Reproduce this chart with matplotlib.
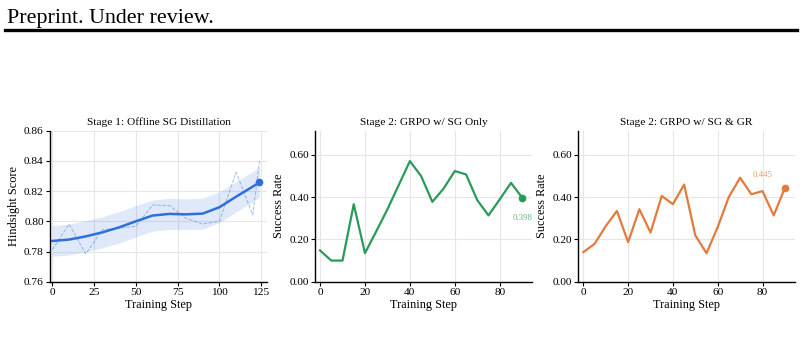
import numpy as np
import matplotlib
matplotlib.use("Agg")
import matplotlib.pyplot as plt
from matplotlib.ticker import FormatStrFormatter

plt.rcParams["font.family"] = ["Liberation Serif", "DejaVu Serif"]

# --- Stage 1: offline SG distillation (hindsight score) ---
s1_steps = [0, 10, 20, 30, 40, 50, 60, 70, 80, 90, 100, 110, 120, 124]
s1_raw = [0.7812, 0.7982, 0.7784, 0.7945, 0.7954, 0.7967, 0.8108, 0.8104,
          0.8020, 0.7982, 0.8000, 0.8325, 0.8042, 0.8400]
s1_smooth = [0.7870, 0.7879, 0.7900, 0.7927, 0.7960, 0.8000, 0.8038, 0.8049,
             0.8046, 0.8051, 0.8093, 0.8163, 0.8230, 0.8258]
s1_band = [0.0102, 0.0102, 0.0103, 0.0103, 0.0104, 0.0104, 0.0103, 0.0103,
           0.0102, 0.0102, 0.0102, 0.0101, 0.0100, 0.0100]

# --- Stage 2: GRPO runs (success rate) ---
s2_steps = [0, 5, 10, 15, 20, 25, 30, 35, 40, 45, 50, 55, 60, 65, 70, 75, 80, 85, 90]
sg_only = [0.148, 0.100, 0.100, 0.367, 0.135, 0.238, 0.343, 0.457, 0.571, 0.500,
           0.378, 0.441, 0.524, 0.508, 0.386, 0.314, 0.390, 0.468, 0.398]
sg_gr = [0.140, 0.179, 0.263, 0.335, 0.187, 0.343, 0.233, 0.406, 0.367, 0.460,
         0.219, 0.135, 0.259, 0.402, 0.492, 0.414, 0.429, 0.314, 0.445]

BLUE = "#2f6fdb"
GREEN = "#2a9a5a"
ORANGE = "#e27b3b"

W, H = 804, 337
fig = plt.figure(figsize=(W / 100, H / 100), dpi=100)

# page header
fig.text(7 / W, 1 - 22.7 / H, "Preprint. Under review.", fontsize=15.8,
         ha="left", va="baseline")
fig.add_artist(plt.Line2D([5 / W, 797 / W], [1 - 30 / H, 1 - 30 / H],
                          color="black", lw=2.4, transform=fig.transFigure))

bottom = 1 - 281.7 / H
height = 151 / H
ax1 = fig.add_axes([50 / W, bottom, 217 / W, height])
ax2 = fig.add_axes([315 / W, bottom, 217.3 / W, height])
ax3 = fig.add_axes([578.3 / W, bottom, 216.7 / W, height])


def style(ax, title, ylabel):
    ax.set_title(title, fontsize=8.2, pad=4)
    ax.set_xlabel("Training Step", fontsize=8.8, labelpad=1.5)
    ax.set_ylabel(ylabel, fontsize=8.8, labelpad=3)
    ax.grid(True, color="#e6e6e6", lw=0.8)
    ax.set_axisbelow(True)
    for side in ("top", "right"):
        ax.spines[side].set_visible(False)
    for side in ("left", "bottom"):
        ax.spines[side].set_linewidth(1.0)
    ax.tick_params(labelsize=8.2, length=3, width=0.8, pad=1.5)


# panel 1
lo = np.array(s1_smooth) - np.array(s1_band)
hi = np.array(s1_smooth) + np.array(s1_band)
ax1.fill_between(s1_steps, lo, hi, color=BLUE, alpha=0.15, lw=0)
ax1.plot(s1_steps, s1_raw, color=BLUE, lw=0.7, ls="--", alpha=0.45)
ax1.plot(s1_steps, s1_smooth, color=BLUE, lw=1.8)
ax1.plot(s1_steps[-1], s1_smooth[-1], "o", color=BLUE, ms=4.5)
ax1.set_xlim(-1.4, 128.5)
ax1.set_ylim(0.76, 0.86)
ax1.set_xticks([0, 25, 50, 75, 100, 125])
ax1.set_yticks(np.arange(0.76, 0.861, 0.02))
ax1.yaxis.set_major_formatter(FormatStrFormatter("%.2f"))
style(ax1, "Stage 1: Offline SG Distillation", "Hindsight Score")

# panels 2 and 3
for ax, vals, col, lab_col, title, off in [
    (ax2, sg_only, GREEN, "#5fb884", "Stage 2: GRPO w/ SG Only", (0, -15)),
    (ax3, sg_gr, ORANGE, "#f09a62", "Stage 2: GRPO w/ SG & GR", (-16, 9)),
]:
    ax.plot(s2_steps, vals, color=col, lw=1.6)
    ax.plot(s2_steps[-1], vals[-1], "o", color=col, ms=4.5)
    ax.annotate(f"{vals[-1]:.3f}", (s2_steps[-1], vals[-1]), xytext=off,
                textcoords="offset points", ha="center", va="center",
                fontsize=6.3, color=lab_col)
    ax.set_xlim(-2.25, 94.5)
    ax.set_ylim(0, 0.715)
    ax.set_xticks([0, 20, 40, 60, 80])
    ax.set_yticks([0.0, 0.2, 0.4, 0.6])
    ax.yaxis.set_major_formatter(FormatStrFormatter("%.2f"))
    style(ax, title, "Success Rate")

fig.savefig("out.png", dpi=100)
